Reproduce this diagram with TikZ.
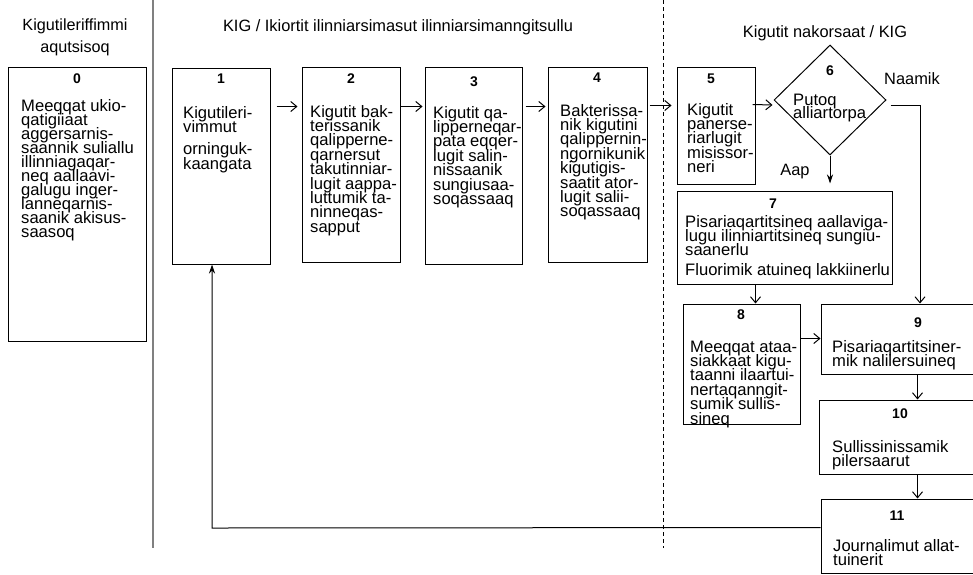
\documentclass[tikz,border=0pt]{standalone}
\usepackage{fontspec}
\setmainfont{Liberation Sans}
\usetikzlibrary{arrows.meta,calc,shapes.geometric}
\newcommand\txtblock[2][14.4pt]{\parbox[t]{240pt}{\raggedright\fontsize{16.6}{#1}\selectfont\lineskiplimit=-100pt\lineskip=0pt #2}}
\newcommand\ttlblock[1]{\parbox[t]{200pt}{\centering\fontsize{16.2}{22}\selectfont #1}}
\begin{document}
\begin{tikzpicture}[x=1pt,y=-1pt,
  box/.style={draw=black, line width=1pt, inner sep=0pt, fill=none},
  body/.style={anchor=base west, inner sep=0pt},
  num/.style={anchor=base, inner sep=0pt, font=\fontsize{14}{14}\selectfont\bfseries},
  lbl/.style={anchor=base, inner sep=0pt, font=\fontsize{16.4}{16.4}\selectfont},
  oarr/.style={draw=black, line width=1pt, -{Straight Barb[length=6pt,width=10pt]}},
  farr/.style={draw=black, line width=1pt, -{Stealth[length=9pt,width=6pt]}}]
\useasboundingbox (0,0) rectangle (973,574);
% separators
\draw[gray, line width=1.5pt] (153,0) -- (153,548);
\draw[black, line width=0.8pt, dash pattern=on 4pt off 3pt] (663,0) -- (663,548);
% titles
\node[anchor=base, inner sep=0pt] (t0) at (75,30) {\ttlblock{Kigutileriffimmi\\aqutsisoq}};
\node[lbl] (t1) at (398,31) {KIG / Ikiortit ilinniarsimasut ilinniarsimanngitsullu};
\node[lbl] (t2) at (825,37) {Kigutit nakorsaat / KIG};
% boxes
\node[box, minimum width=138pt, minimum height=274pt] (b0) at (77,204) {};
\node[box, minimum width=98pt, minimum height=196pt] (b1) at (221,166) {};
\node[box, minimum width=98pt, minimum height=195pt] (b2) at (351,164.5) {};
\node[box, minimum width=97pt, minimum height=197pt] (b3) at (473.5,165.5) {};
\node[box, minimum width=99pt, minimum height=195pt] (b4) at (597.5,164.5) {};
\node[box, minimum width=78pt, minimum height=117pt] (b5) at (716,125.5) {};
\node[box, diamond, minimum width=112pt, minimum height=110pt] (d6) at (830,100) {};
\node[box, minimum width=215pt, minimum height=93pt] (b7) at (784.5,237.5) {};
\node[box, minimum width=117pt, minimum height=120pt] (b8) at (741.5,364) {};
\node[box, minimum width=159pt, minimum height=70pt] (b9) at (900.5,339) {};
\node[box, minimum width=161pt, minimum height=74pt] (b10) at (899.5,437) {};
\node[box, minimum width=159pt, minimum height=74pt] (b11) at (900.5,536) {};
% numbers
\node[num] (n0) at (77,83) {0};
\node[num] (n1) at (221,83) {1};
\node[num] (n2) at (351,83) {2};
\node[num] (n3) at (474,86) {3};
\node[num] (n4) at (597,82) {4};
\node[num] (n5) at (711,83) {5};
\node[num] (n6) at (830,75) {6};
\node[num] (n7) at (773,208) {7};
\node[num] (n8) at (741,319) {8};
\node[num] (n9) at (918,327) {9};
\node[num] (n10) at (900,418) {10};
\node[num] (n11) at (897,520) {11};
% body texts
\node[body] (x0) at (21,111) {\txtblock[14pt]{Meeqqat ukio-\\qatigiiaat\\aggersarnis-\\saannik suliallu\\illinniagaqar-\\neq aallaavi-\\galugu inger-\\lanneqarnis-\\saanik akisus-\\saasoq}};
\node[body] (x1) at (183,118) {\txtblock{Kigutileri-\\vimmut\\[8pt]orninguk-\\kaangata}};
\node[body] (x2) at (310,117) {\txtblock{Kigutit bak-\\terissanik\\qalipperne-\\qarnersut\\takutinniar-\\lugit aappa-\\luttumik ta-\\ninneqas-\\sapput}};
\node[body] (x3) at (433,118) {\txtblock{Kigutit qa-\\lipperneqar-\\pata eqqer-\\lugit salin-\\nissaanik\\sungiusaa-\\soqassaaq}};
\node[body] (x4) at (560,116) {\txtblock{Bakterissa-\\nik kigutini\\qalippernin-\\ngornikunik\\kigutigis-\\saatit ator-\\lugit salii-\\soqassaaq}};
\node[body] (x5) at (687,115) {\txtblock{Kigutit\\panerse-\\riarlugit\\misissor-\\neri}};
\node[body] (x6) at (793,105) {\txtblock[13pt]{Putoq\\alliartorpa}};
\node[body] (x7) at (685,227) {\txtblock{Pisariaqartitsineq aallaviga-\\lugu ilinniartitsineq sungiu-\\saanerlu\\[5pt]Fluorimik atuineq lakkiinerlu}};
\node[body] (x8) at (690,352) {\txtblock{Meeqqat ataa-\\siakkaat kigu-\\taanni ilaartui-\\nertaqanngit-\\sumik sullis-\\sineq}};
\node[body] (x9) at (832,352) {\txtblock{Pisariaqartitsiner-\\mik nalilersuineq}};
\node[body] (x10) at (832,452) {\txtblock{Sullissinissamik\\pilersaarut}};
\node[body] (x11) at (833,551) {\txtblock{Journalimut allat-\\tuinerit}};
% branch labels
\node[lbl] (lno) at (912,84) {Naamik};
\node[lbl] (lyes) at (795,175) {Aap};
% connectors
\draw[oarr] ($(b1.north east)+(6,39)$) -- ($(b2.north west)+(-4,40)$);
\draw[oarr] ($(b2.north east)+(0,40)$) -- ($(b3.north west)+(-2,40)$);
\draw[oarr] ($(b3.north east)+(3,40)$) -- ($(b4.north west)+(-2,40)$);
\draw[oarr] ($(b4.north east)+(2,39)$) -- ($(b5.north west)+(-5,39)$);
\draw[oarr] ($(b5.north east)+(-3,38)$) -- ($(d6.west)+(-1,5)$);
\coordinate (nm) at (920,105);
\draw[oarr] ($(d6.east)+(4,5)$) -- (nm) -- (nm |- b9.north);
\draw[farr] (d6.south) -- ++(0,28);
\draw[oarr] ($(b7.south west)+(79,0)$) -- ($(b8.north west)+(73,0)$);
\draw[oarr] ($(b8.north east)+(0,35)$) -- ($(b9.north west)+(0,35)$);
\draw[oarr] ($(b9.south west)+(97,0)$) -- ($(b10.north west)+(99,0)$);
\draw[oarr] ($(b10.south west)+(99,0)$) -- ($(b11.north west)+(97,0)$);
\coordinate (c1) at (212,528);
\draw[farr] ($(b11.north west)+(0,29)$) -- (c1) -- (c1 |- b1.south);
\end{tikzpicture}
\end{document}
